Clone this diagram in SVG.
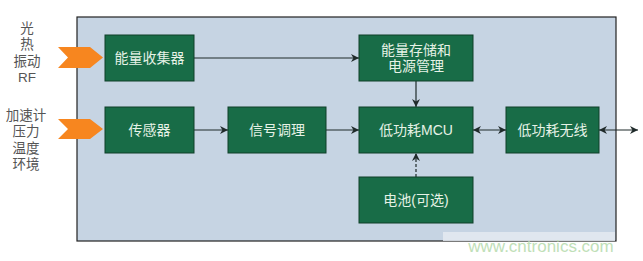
<svg xmlns="http://www.w3.org/2000/svg" width="643" height="261" viewBox="0 0 643 261">
<defs>
<style>
.box{fill:#186c47;stroke:#0e3f28;stroke-width:1}
.bt{fill:#e6f2e6;font-family:"Liberation Sans","Noto Sans CJK SC",sans-serif;font-size:14px;text-anchor:middle}
.lt{fill:#555;font-family:"Liberation Sans","Noto Sans CJK SC",sans-serif;font-size:13.5px;text-anchor:middle}
.ln{stroke:#1f2a2a;stroke-width:1.2;fill:none}
.chev{fill:#f7861f}
</style>
<marker id="ah" viewBox="0 0 10 10" refX="10" refY="5" markerWidth="8" markerHeight="8" orient="auto-start-reverse" markerUnits="userSpaceOnUse">
<path d="M0,0 L10,5 L0,10 L3,5 Z" fill="#1f2a2a"/>
</marker>
</defs>
<rect width="643" height="261" fill="#fff"/>
<rect id="panel" x="77" y="17" width="539" height="224" fill="#c6d4e3" stroke="#222" stroke-width="1.2"/>
<g id="inputs">
<polygon class="chev" points="58,47 90,47 103,57.5 90,68 58,68 68,57.5"/>
<polygon class="chev" points="58,119 90,119 103,129 90,139 58,139 68,129"/>
<text class="lt" x="27" y="33">光</text>
<text class="lt" x="27" y="49.3">热</text>
<text class="lt" x="27" y="65.6">振动</text>
<text class="lt" x="27" y="81.9">RF</text>
<text class="lt" x="26" y="120">加速计</text>
<text class="lt" x="26" y="136.3">压力</text>
<text class="lt" x="26" y="152.6">温度</text>
<text class="lt" x="26" y="168.9">环境</text>
</g>
<g id="connectors">
<line class="ln" x1="194" y1="58" x2="359" y2="58" marker-end="url(#ah)"/>
<line class="ln" x1="416" y1="81" x2="416" y2="107" marker-end="url(#ah)"/>
<line class="ln" x1="194" y1="130" x2="228" y2="130" marker-end="url(#ah)"/>
<line class="ln" x1="326" y1="130" x2="359" y2="130" marker-end="url(#ah)"/>
<line class="ln" x1="473" y1="130" x2="506" y2="130" marker-start="url(#ah)" marker-end="url(#ah)"/>
<line class="ln" x1="599" y1="130" x2="638" y2="130" marker-start="url(#ah)" marker-end="url(#ah)"/>
<line class="ln" x1="416" y1="177" x2="416" y2="153" stroke-dasharray="3,2" marker-end="url(#ah)"/>
</g>
<g id="n1"><rect class="box" x="105" y="35" width="89" height="46"/><text class="bt" x="149.5" y="63">能量收集器</text></g>
<g id="n2"><rect class="box" x="359" y="35" width="114" height="46"/><text class="bt" x="416" y="55">能量存储和</text><text class="bt" x="416" y="71">电源管理</text></g>
<g id="n3"><rect class="box" x="105" y="107" width="89" height="46"/><text class="bt" x="149.5" y="135">传感器</text></g>
<g id="n4"><rect class="box" x="228" y="107" width="98" height="46"/><text class="bt" x="277" y="135">信号调理</text></g>
<g id="n5"><rect class="box" x="359" y="107" width="114" height="46"/><text class="bt" x="416" y="135">低功耗MCU</text></g>
<g id="n6"><rect class="box" x="506" y="107" width="93" height="46"/><text class="bt" x="552.5" y="135">低功耗无线</text></g>
<g id="n7"><rect class="box" x="359" y="177" width="114" height="46"/><text class="bt" x="416" y="205">电池(可选)</text></g>
<g id="watermark">
<rect x="443" y="232" width="172" height="9" fill="#e4eaf1" opacity="0.85"/>
<text x="541" y="252" font-family="Liberation Sans,sans-serif" font-size="17" fill="#bfe0b8" text-anchor="middle">www.cntronics.com</text>
</g>
</svg>
